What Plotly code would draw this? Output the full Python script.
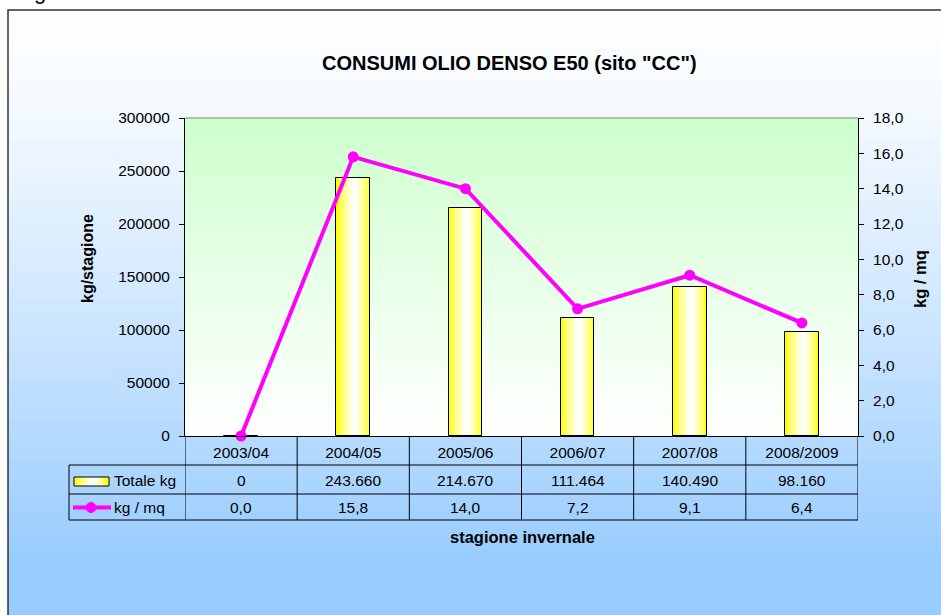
import plotly.graph_objects as go

# ---------------- data ----------------
categories = ["2003/04", "2004/05", "2005/06", "2006/07", "2007/08", "2008/2009"]
totale_kg = [0, 243660, 214670, 111464, 140490, 98160]
kg_mq = [0.0, 15.8, 14.0, 7.2, 9.1, 6.4]
left_tickvals = [0, 50000, 100000, 150000, 200000, 250000, 300000]
right_tickvals = [0, 2, 4, 6, 8, 10, 12, 14, 16, 18]

title_text = 'CONSUMI OLIO DENSO E50 (sito "CC")'
series_names = ["Totale kg", "kg / mq"]

# ---------------- geometry helpers ----------------
FW, FH = 941, 615
L, R, T, B = 185, 858, 118, 436


def px(x):
    return (x - L) / (R - L)


def py(y):
    return (B - y) / (B - T)


def mix(c1, c2, t):
    t = max(0.0, min(1.0, t))
    return "rgb(%d,%d,%d)" % tuple(round(a + (b - a) * t) for a, b in zip(c1, c2))


FONT = "Liberation Sans, Arial, sans-serif"
fig = go.Figure()

# ---------------- bars (gradient emulated by overlaid bars) ----------------
BW = 0.3
P = 0.55
N = 12
YEL = (255, 255, 0)
WHT = (255, 255, 255)
for k in range(N):
    f = 1 - k / N
    off = -BW / 2 + BW * P * (1 - f)
    fig.add_trace(go.Bar(
        x=categories, y=totale_kg, width=BW * f, offset=off,
        marker=dict(color=mix(YEL, WHT, (k / (N - 1)) ** 0.7), line=dict(width=0)),
        hoverinfo="skip", showlegend=False,
    ))
fig.add_trace(go.Bar(
    x=categories, y=totale_kg, width=BW, offset=-BW / 2, name=series_names[0],
    marker=dict(color="rgba(0,0,0,0)", line=dict(color="black", width=1)),
    showlegend=False,
))

# ---------------- line ----------------
fig.add_trace(go.Scatter(
    x=categories, y=kg_mq, yaxis="y2", mode="lines+markers", name=series_names[1],
    line=dict(color="#FF00FF", width=4), marker=dict(size=11, color="#FF00FF"),
    cliponaxis=False, showlegend=False,
))

shapes = []
# outer background gradient
y0, y1 = 10, 620
nb = 61
for i in range(nb):
    ya = y0 + (y1 - y0) * i / nb
    yb = y0 + (y1 - y0) * (i + 1) / nb + 0.6
    t = ((ya + yb) / 2 - 10) / (560 - 10)
    col = mix((255, 255, 255), (153, 204, 255), max(0, t) ** 1.25)
    shapes.append(dict(type="rect", xref="paper", yref="paper", x0=px(8), x1=px(950),
                       y0=py(yb), y1=py(ya), fillcolor=col, line=dict(width=0), layer="below"))
# plot area gradient
nb2 = 40
for i in range(nb2):
    ya = T + (B - T) * i / nb2
    yb = T + (B - T) * (i + 1) / nb2 + 0.6
    t = ((ya + yb) / 2 - T) / (B - T)
    col = mix((204, 255, 204), (255, 255, 255), t ** 0.9)
    shapes.append(dict(type="rect", xref="paper", yref="paper", x0=0, x1=1,
                       y0=py(min(yb, B)), y1=py(ya), fillcolor=col, line=dict(width=0), layer="below"))
# outer border
shapes.append(dict(type="rect", xref="paper", yref="paper", x0=px(8), x1=px(960),
                   y0=py(640), y1=py(10), line=dict(color="#333333", width=1.5), layer="above"))
# top border of plot area
shapes.append(dict(type="line", xref="paper", yref="paper", x0=0, x1=1, y0=1, y1=1,
                   line=dict(color="#808080", width=1)))

# ---------------- data table ----------------
rows_y = [436, 465, 494, 520]
for yy in rows_y[1:]:
    shapes.append(dict(type="line", xref="paper", yref="paper", x0=px(69), x1=px(R),
                       y0=py(yy), y1=py(yy), line=dict(color="black", width=1)))
shapes.append(dict(type="line", xref="paper", yref="paper", x0=px(69), x1=px(69),
                   y0=py(465), y1=py(520), line=dict(color="black", width=1)))
for i in range(len(categories) + 1):
    shapes.append(dict(type="line", xref="x", yref="paper", x0=i - 0.5, x1=i - 0.5,
                       y0=py(436), y1=py(520), line=dict(color="black", width=1)))

# legend symbols
ns = 10
for i in range(ns):
    xa = 74 + 35 * i / ns
    xb = 74 + 35 * (i + 1) / ns + 0.3
    tc = (i + 0.5) / ns
    d = abs(tc - P) / (P if tc < P else 1 - P)
    shapes.append(dict(type="rect", xref="paper", yref="paper", x0=px(xa), x1=px(xb),
                       y0=py(486), y1=py(477), fillcolor=mix(WHT, YEL, d ** 1.2), line=dict(width=0)))
shapes.append(dict(type="rect", xref="paper", yref="paper", x0=px(74), x1=px(109),
                   y0=py(486), y1=py(477), line=dict(color="black", width=1)))
shapes.append(dict(type="line", xref="paper", yref="paper", x0=px(73), x1=px(111),
                   y0=py(507.5), y1=py(507.5), line=dict(color="#FF00FF", width=4)))
shapes.append(dict(type="circle", xref="paper", yref="paper", x0=px(86), x1=px(96),
                   y0=py(512.5), y1=py(502.5), fillcolor="#FF00FF", line=dict(color="#FF00FF", width=1)))


def ann(x, y, text, size=15.5, xref="paper", xanchor="center", yanchor="middle", angle=0):
    return dict(xref=xref, yref="paper", x=x, y=y, text=text, showarrow=False,
                xanchor=xanchor, yanchor=yanchor, textangle=angle,
                font=dict(size=size, color="black", family=FONT))


annotations = []
for c, v, m in zip(categories, totale_kg, kg_mq):
    annotations.append(ann(c, py(480), f"{v:,}".replace(",", "."), xref="x"))
    annotations.append(ann(c, py(507.5), f"{m:.1f}".replace(".", ","), xref="x"))
annotations.append(ann(px(112), py(480), series_names[0], xanchor="left"))
annotations.append(ann(px(112), py(507.5), series_names[1], xanchor="left"))
# titles
annotations.append(ann(px(509), py(63), "<b>" + title_text + "</b>", size=20))
annotations.append(ann(px(522), py(537), "<b>stagione invernale</b>", size=16.5))
annotations.append(ann(px(87), py(259), "<b>kg/stagione</b>", size=16, angle=-90))
annotations.append(ann(px(920), py(279), "<b>kg / mq</b>", size=16.5, angle=-90))
# clipped glyph from the surrounding document
annotations.append(ann(px(40), py(6), "g", size=22, yanchor="bottom"))

fig.update_layout(
    width=FW, height=FH,
    margin=dict(l=L, r=FW - R, t=T, b=FH - B, pad=0),
    paper_bgcolor="white", plot_bgcolor="rgba(0,0,0,0)",
    barmode="overlay", bargap=0,
    separators=",.",
    font=dict(family=FONT, size=15.5, color="black"),
    showlegend=False,
    xaxis=dict(type="category", range=[-0.5, len(categories) - 0.5], showline=True, linecolor="black",
               linewidth=1, ticks="", showgrid=False, zeroline=False, ticklabelstandoff=2,
               tickfont=dict(size=15.5, family=FONT, color="black")),
    yaxis=dict(range=[0, 300000], tickvals=left_tickvals, tickformat="d", showline=True,
               linecolor="black", linewidth=1, ticks="outside", ticklen=5, tickcolor="black",
               showgrid=False, zeroline=False, ticklabelstandoff=6,
               tickfont=dict(size=15.5, family=FONT, color="black")),
    yaxis2=dict(range=[0, 18], tickvals=right_tickvals, tickformat=".1f", overlaying="y", side="right",
                showline=True, linecolor="black", linewidth=1, ticks="outside", ticklen=5,
                tickcolor="black", showgrid=False, zeroline=False, ticklabelstandoff=6,
                tickfont=dict(size=15.5, family=FONT, color="black")),
    shapes=shapes,
    annotations=annotations,
)

fig.write_html("out.html", config={"displayModeBar": False},
               post_script="document.body.style.margin='0';document.body.style.overflow='hidden';")
